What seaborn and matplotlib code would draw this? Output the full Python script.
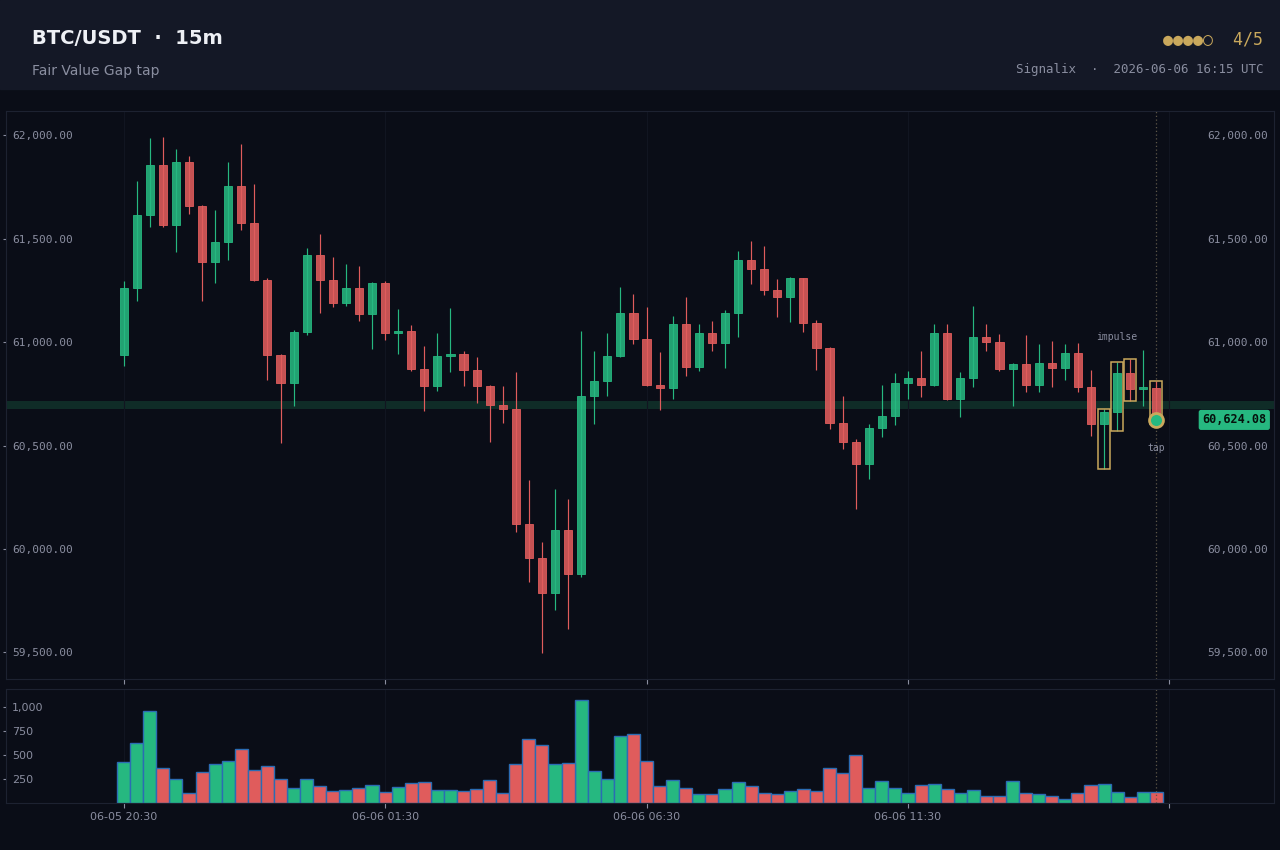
import numpy as np
import pandas as pd
import matplotlib
matplotlib.use("Agg")
import matplotlib.pyplot as plt
from matplotlib.patches import Rectangle
from matplotlib.ticker import FixedLocator, FuncFormatter
from matplotlib.colors import to_rgba
import seaborn as sns

# ---------------- data ----------------
symbol = "BTC/USDT"
timeframe = "15m"
subtitle = "Fair Value Gap tap"
source = "Signalix"
stamp = "2026-06-06 16:15 UTC"
score_text = "●●●●○  4/5"

opens = [60938, 61261, 61613, 61855, 61567, 61869, 61658, 61387, 61482, 61753,
         61577, 61301, 60938, 60803, 61047, 61420, 61301, 61190, 61264, 61136,
         61288, 61045, 61052, 60871, 60788, 60931, 60945, 60865, 60788, 60696,
         60677, 60123, 59957, 59788, 60093, 59879, 60741, 60813, 60934, 61142,
         61016, 60793, 60779, 61086, 60879, 61043, 60997, 61140, 61396, 61354,
         61252, 61218, 61309, 61093, 60972, 60610, 60516, 60411, 60587, 60641,
         60802, 60826, 60793, 61043, 60724, 60826, 61023, 61000, 60869, 60893,
         60793, 60898, 60877, 60950, 60782, 60603, 60663, 60853, 60774, 60778]
highs = [61297, 61781, 61988, 61993, 61936, 61902, 61665, 61641, 61869, 61960,
         61767, 61310, 60945, 61060, 61453, 61522, 61413, 61380, 61370, 61292,
         61295, 61161, 61083, 60981, 61045, 61164, 60957, 60927, 60792, 60786,
         60855, 60333, 60036, 60290, 60242, 61054, 60957, 61045, 61266, 61235,
         61171, 60953, 61128, 61219, 61090, 61100, 61157, 61442, 61491, 61466,
         61306, 61313, 61312, 61109, 60978, 60741, 60534, 60606, 60795, 60853,
         60862, 60959, 61090, 61090, 60857, 61176, 61090, 61041, 60897, 61035,
         60993, 61007, 60991, 60997, 60865, 60675, 60905, 60921, 60964, 60810]
lows = [60886, 61200, 61558, 61558, 61437, 61622, 61200, 61288, 61399, 61544,
        61295, 60819, 60510, 60691, 61036, 61143, 61171, 61176, 61104, 60969,
        61012, 60945, 60860, 60668, 60765, 60857, 60786, 60708, 60515, 60611,
        60080, 59838, 59496, 59703, 59615, 59862, 60603, 60741, 60930, 60990,
        60790, 60674, 60727, 60834, 60862, 60959, 60876, 61023, 61283, 61230,
        61123, 61098, 61050, 60867, 60582, 60482, 60192, 60340, 60542, 60601,
        60727, 60736, 60790, 60720, 60636, 60781, 60959, 60860, 60693, 60757,
        60760, 60784, 60819, 60760, 60548, 60387, 60572, 60715, 60693, 60605]
closes = [61261, 61613, 61855, 61567, 61869, 61658, 61387, 61482, 61753, 61577,
          61301, 60938, 60803, 61047, 61420, 61301, 61190, 61264, 61136, 61288,
          61045, 61052, 60871, 60788, 60931, 60945, 60865, 60788, 60696, 60677,
          60123, 59957, 59788, 60093, 59879, 60741, 60813, 60934, 61142, 61016,
          60793, 60779, 61086, 60879, 61043, 60997, 61140, 61396, 61354, 61252,
          61218, 61309, 61093, 60972, 60610, 60516, 60411, 60587, 60641, 60802,
          60826, 60793, 61043, 60724, 60826, 61023, 61000, 60869, 60893, 60793,
          60898, 60877, 60950, 60782, 60603, 60663, 60853, 60774, 60778, 60624.08]
volumes = [425, 624, 958, 362, 247, 101, 321, 404, 436, 561,
           341, 383, 247, 153, 247, 174, 122, 132, 153, 185,
           111, 164, 206, 216, 132, 132, 122, 143, 237, 101,
           404, 665, 603, 404, 415, 1073, 331, 247, 697, 718,
           436, 174, 237, 153, 91, 91, 143, 216, 174, 101,
           91, 122, 143, 122, 362, 310, 498, 153, 226, 153,
           101, 185, 195, 143, 101, 132, 70, 70, 226, 101,
           91, 70, 38, 101, 185, 195, 111, 59, 111, 111]

x_tick_pos = [0, 20, 40, 60, 80]
x_tick_labels = ["06-05 20:30", "06-06 01:30", "06-06 06:30", "06-06 11:30", ""]
price_ticks = [59500, 60000, 60500, 61000, 61500, 62000]
volume_ticks = [250, 500, 750, 1000]
impulse_idx = [75, 76, 77]
tap_idx = 79

# ---------------- style ----------------
BG = "#0a0d17"
HEADER = "#141826"
GREEN = "#26b880"
RED = "#e05c5c"
GOLD = "#c9a85c"
MUTED = "#8a8ea0"
FRAME = "#1d2231"
GRID = "#111521"
MONO = "DejaVu Sans Mono"

sns.set_theme(style="dark", rc={
    "figure.facecolor": BG, "axes.facecolor": BG, "axes.edgecolor": FRAME,
    "axes.linewidth": 0.8, "grid.color": GRID, "text.color": MUTED,
    "xtick.color": MUTED, "ytick.color": MUTED,
})
plt.rcParams["font.family"] = ["DejaVu Sans"]

n = len(closes)
idx = np.arange(n)
df = pd.DataFrame({"idx": idx, "open": opens, "high": highs, "low": lows,
                   "close": closes, "volume": volumes})
df["dir"] = np.where(df["close"] >= df["open"], "up", "down")
pal = {"up": GREEN, "down": RED}
colors = df["dir"].map(pal).tolist()
face_colors = [to_rgba(c, 0.88) for c in colors]

fig = plt.figure(figsize=(12.8, 8.5), dpi=100, facecolor=BG)
fig.patches.append(Rectangle((0, 1 - 89 / 850), 1, 89 / 850,
                             transform=fig.transFigure, color=HEADER, zorder=0))

axp = fig.add_axes([6 / 1280, 1 - 679 / 850, 1268 / 1280, 568 / 850])
axv = fig.add_axes([6 / 1280, 1 - 803 / 850, 1268 / 1280, 114 / 850], sharex=axp)

# ---------------- volume ----------------
sns.barplot(data=df, x="idx", y="volume", hue="dir", palette=pal,
            native_scale=True, width=1.0, dodge=False, saturation=1,
            edgecolor="#2b6cb3", linewidth=1.0, legend=False, ax=axv)
axv.set_xlabel("")
axv.set_ylabel("")

# ---------------- candles ----------------
fvg_lo = highs[impulse_idx[0]]
fvg_hi = lows[impulse_idx[-1]]
axp.axhspan(fvg_lo, fvg_hi, color="#0f2c27", lw=0, zorder=0.5)

body_lo = np.minimum(df["open"], df["close"])
body_h = np.maximum(np.abs(df["close"] - df["open"]), 7)
axp.vlines(idx, df["low"], df["high"], colors=colors, lw=0.85, zorder=2)
axp.bar(idx, body_h, bottom=body_lo, width=0.62, color=face_colors,
        edgecolor=colors, linewidth=0.6, zorder=3)

for i in impulse_idx + [tap_idx]:
    axp.add_patch(Rectangle((i - 0.45, lows[i]), 0.9, highs[i] - lows[i],
                            fill=False, ec=GOLD, lw=1.1, zorder=4))

axp.annotate("impulse", xy=(impulse_idx[1], max(highs[i] for i in impulse_idx)),
             xytext=(0, 12), textcoords="offset points", ha="center", va="bottom",
             fontsize=7, family=MONO, color=MUTED)
axp.annotate("tap", xy=(tap_idx, lows[tap_idx]), xytext=(0, -14),
             textcoords="offset points", ha="center", va="top",
             fontsize=7, family=MONO, color=MUTED)
axp.plot([tap_idx], [closes[tap_idx]], marker="o", ms=10, mfc=GREEN, mec=GOLD,
         mew=2, zorder=6, ls="none")

for a in (axp, axv):
    a.axvline(tap_idx, color="#5e5748", ls=(0, (1, 2)), lw=0.9, zorder=1)
    a.grid(True, axis="x", color=GRID, lw=0.8)
    a.grid(False, axis="y")
    a.set_axisbelow(True)
    for s in a.spines.values():
        s.set_color(FRAME)
        s.set_linewidth(0.8)

axp.annotate(f"{closes[-1]:,.2f}", xy=(1, closes[-1]),
             xycoords=axp.get_yaxis_transform(), xytext=(-5.5, 0),
             textcoords="offset points", ha="right", va="center",
             fontsize=8.5, fontweight="bold", family=MONO, color="#06110c",
             bbox=dict(boxstyle="round,pad=0.3,rounding_size=0.2", fc=GREEN, ec="none"),
             zorder=10, annotation_clip=False)

# ---------------- axes ----------------
lo, hi = min(lows), max(highs)
pad = 0.05 * (hi - lo)
axp.set_ylim(lo - pad, hi + pad)
axp.set_xlim(-9, 88)
axv.set_ylim(0, 1190)

axv.set_xticks(x_tick_pos, x_tick_labels)
axp.tick_params(axis="x", bottom=True, labelbottom=False, length=3.5, width=0.8,
                color=MUTED)
axv.tick_params(axis="x", bottom=True, labelbottom=True, length=3.5, width=0.8,
                color=MUTED, labelcolor=MUTED, labelsize=8, pad=3)

axp.yaxis.set_major_locator(FixedLocator(price_ticks))
axp.yaxis.set_major_formatter(FuncFormatter(lambda v, p: f"{v:,.2f}"))
axp.tick_params(axis="y", left=True, right=False, labelleft=True, labelright=True,
                length=2.5, width=0.8, pad=-6.9, color=MUTED, labelcolor=MUTED,
                labelsize=8)
for t in axp.yaxis.get_major_ticks():
    t.label1.set_horizontalalignment("left")
    t.label2.set_horizontalalignment("right")
    t.label1.set_family(MONO)
    t.label2.set_family(MONO)

axv.yaxis.set_major_locator(FixedLocator(volume_ticks))
axv.yaxis.set_major_formatter(FuncFormatter(lambda v, p: f"{v:,.0f}"))
axv.tick_params(axis="y", left=True, labelleft=True, length=2.5, width=0.8,
                pad=-6.9, color=MUTED, labelcolor=MUTED, labelsize=8)
for t in axv.yaxis.get_major_ticks():
    t.label1.set_horizontalalignment("left")

# ---------------- header ----------------
fig.text(32 / 1280, 1 - 39 / 850, f"{symbol}  ·  {timeframe}", fontsize=14,
         fontweight="bold", color="#eef0f5", va="center", ha="left")
fig.text(32 / 1280, 1 - 71 / 850, subtitle, fontsize=10, color=MUTED,
         va="center", ha="left")
fig.text(1263 / 1280, 1 - 39 / 850, score_text, fontsize=12, family=MONO,
         color=GOLD, va="center", ha="right")
fig.text(1263 / 1280, 1 - 70 / 850, f"{source}  ·  {stamp}", fontsize=9,
         family=MONO, color=MUTED, va="center", ha="right")

fig.savefig("out.png", dpi=100, facecolor=BG)
